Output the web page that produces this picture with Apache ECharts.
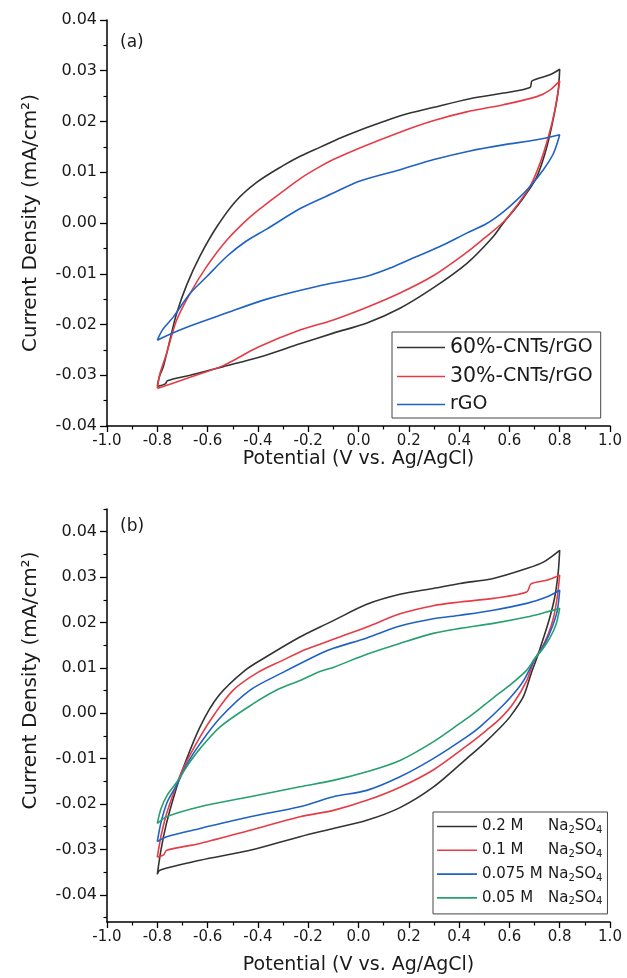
<!DOCTYPE html>
<html><head><meta charset="utf-8">
<script src="https://cdn.jsdelivr.net/npm/echarts@6/dist/echarts.min.js"></script>
<style>html,body{margin:0;padding:0;background:#fff}#c{width:627px;height:978px}</style>
</head><body><div id="c"></div>
<script>
// ---------- data (Potential V, Current density mA/cm2) ----------
const namesA = ['60%-CNTs/rGO', '30%-CNTs/rGO', 'rGO'];
const namesB = ['0.2 M Na2SO4', '0.1 M Na2SO4', '0.075 M Na2SO4', '0.05 M Na2SO4'];
const xTicks = [-1.0, -0.8, -0.6, -0.4, -0.2, 0.0, 0.2, 0.4, 0.6, 0.8, 1.0];
const yTicksB = [-0.04, -0.03, -0.02, -0.01, 0.00, 0.01, 0.02, 0.03, 0.04];
const yMinorB = [-0.045, -0.035, -0.025, -0.015, -0.005, 0.005, 0.015, 0.025, 0.035, 0.045];

// panel (a): anodic (forward) and cathodic (reverse) branches
const a60Fwd = [[-0.80,-0.0321],[-0.79,-0.0300],[-0.776,-0.0283],[-0.75,-0.0231],[-0.723,-0.0178],[-0.683,-0.0122],[-0.63,-0.0065],[-0.564,-0.0008],[-0.49,0.0042],[-0.405,0.0080],[-0.30,0.0113],[-0.23,0.0132],[-0.15,0.0150],[-0.07,0.0168],[0.00,0.0182],[0.10,0.0200],[0.17,0.0212],[0.30,0.0228],[0.443,0.0245],[0.576,0.0256],[0.682,0.0267],[0.69,0.0280],[0.761,0.0292],[0.80,0.0303]];
const a60Rev = [[0.80,0.0303],[0.793,0.0256],[0.768,0.0190],[0.742,0.0138],[0.709,0.0091],[0.669,0.0059],[0.629,0.0032],[0.576,0.0000],[0.53,-0.0030],[0.43,-0.0080],[0.297,-0.0128],[0.165,-0.0168],[0.034,-0.0197],[-0.10,-0.0217],[-0.233,-0.0238],[-0.392,-0.0264],[-0.538,-0.0283],[-0.67,-0.0300],[-0.76,-0.0311],[-0.768,-0.0317],[-0.80,-0.0322]];
const a30Fwd = [[-0.80,-0.0326],[-0.79,-0.0298],[-0.763,-0.0257],[-0.723,-0.0191],[-0.67,-0.0139],[-0.604,-0.0086],[-0.524,-0.0034],[-0.431,0.0012],[-0.36,0.0040],[-0.23,0.0088],[-0.15,0.0112],[-0.10,0.0125],[0.00,0.0147],[0.17,0.0180],[0.30,0.0202],[0.43,0.0219],[0.576,0.0233],[0.709,0.0249],[0.761,0.0262],[0.80,0.0280]];
const a30Rev = [[0.80,0.0280],[0.781,0.0223],[0.755,0.0170],[0.722,0.0118],[0.682,0.0072],[0.629,0.0034],[0.576,0.0002],[0.50,-0.0030],[0.43,-0.0058],[0.297,-0.0104],[0.165,-0.0138],[0.034,-0.0166],[-0.10,-0.0191],[-0.233,-0.0211],[-0.40,-0.0245],[-0.538,-0.0281],[-0.67,-0.0304],[-0.80,-0.0326]];
const aRgoFwd = [[-0.80,-0.0231],[-0.78,-0.0211],[-0.736,-0.0185],[-0.67,-0.0139],[-0.604,-0.0106],[-0.524,-0.0066],[-0.45,-0.0037],[-0.365,-0.0012],[-0.23,0.0029],[-0.10,0.0059],[0.00,0.0082],[0.165,0.0105],[0.30,0.0125],[0.443,0.0142],[0.576,0.0154],[0.709,0.0164],[0.80,0.0174]];
const aRgoRev = [[0.80,0.0174],[0.775,0.0137],[0.735,0.0105],[0.682,0.0072],[0.629,0.0045],[0.576,0.0022],[0.51,-0.0001],[0.43,-0.0020],[0.33,-0.0045],[0.231,-0.0066],[0.13,-0.0088],[0.033,-0.0105],[-0.166,-0.0125],[-0.365,-0.0150],[-0.54,-0.0180],[-0.67,-0.0203],[-0.763,-0.0222],[-0.80,-0.0231]];

// panel (b)
const b02Fwd = [[-0.80,-0.0355],[-0.785,-0.0300],[-0.765,-0.0246],[-0.735,-0.0185],[-0.70,-0.0125],[-0.63,-0.0030],[-0.557,0.0038],[-0.45,0.0095],[-0.365,0.0125],[-0.233,0.0168],[-0.153,0.0190],[-0.10,0.0204],[0.033,0.0240],[0.165,0.0262],[0.297,0.0275],[0.404,0.0286],[0.536,0.0297],[0.669,0.0319],[0.735,0.0333],[0.80,0.0359]];
const b02Rev = [[0.80,0.0359],[0.794,0.0310],[0.78,0.0255],[0.76,0.0210],[0.735,0.0165],[0.713,0.0128],[0.685,0.0085],[0.655,0.0036],[0.602,-0.0008],[0.563,-0.0032],[0.496,-0.0068],[0.43,-0.0100],[0.297,-0.0163],[0.165,-0.0208],[0.033,-0.0236],[-0.10,-0.0254],[-0.233,-0.0272],[-0.431,-0.0302],[-0.63,-0.0324],[-0.79,-0.0346],[-0.80,-0.0355]];
const b01Fwd = [[-0.80,-0.0317],[-0.785,-0.0270],[-0.765,-0.0225],[-0.735,-0.0175],[-0.70,-0.0125],[-0.63,-0.0052],[-0.57,0.0000],[-0.498,0.0051],[-0.40,0.0090],[-0.30,0.0117],[-0.233,0.0135],[-0.153,0.0152],[-0.10,0.0163],[0.033,0.0190],[0.165,0.0219],[0.297,0.0237],[0.404,0.0245],[0.536,0.0253],[0.669,0.0267],[0.686,0.0285],[0.748,0.0293],[0.80,0.0304]];
const b01Rev = [[0.80,0.0304],[0.79,0.0255],[0.775,0.0210],[0.755,0.0175],[0.73,0.0145],[0.70,0.0118],[0.669,0.0072],[0.616,0.0022],[0.563,-0.0012],[0.51,-0.0037],[0.43,-0.0072],[0.297,-0.0125],[0.165,-0.0163],[0.033,-0.0192],[-0.10,-0.0214],[-0.233,-0.0228],[-0.431,-0.0258],[-0.63,-0.0287],[-0.763,-0.0302],[-0.775,-0.0312],[-0.80,-0.0317]];
const b0075Fwd = [[-0.80,-0.0283],[-0.785,-0.0240],[-0.76,-0.0195],[-0.72,-0.0155],[-0.68,-0.0110],[-0.63,-0.0067],[-0.55,-0.0010],[-0.431,0.0051],[-0.30,0.0090],[-0.153,0.0131],[-0.10,0.0143],[0.033,0.0166],[0.165,0.0192],[0.297,0.0208],[0.404,0.0216],[0.536,0.0227],[0.669,0.0242],[0.748,0.0256],[0.80,0.0271]];
const b0075Rev = [[0.80,0.0271],[0.79,0.0225],[0.77,0.0190],[0.745,0.0158],[0.72,0.0135],[0.70,0.0118],[0.66,0.0075],[0.635,0.0055],[0.576,0.0018],[0.483,-0.0030],[0.43,-0.0052],[0.297,-0.0100],[0.165,-0.0140],[0.033,-0.0170],[-0.10,-0.0184],[-0.233,-0.0206],[-0.431,-0.0228],[-0.63,-0.0254],[-0.763,-0.0272],[-0.80,-0.0283]];
const b005Fwd = [[-0.80,-0.0243],[-0.785,-0.0210],[-0.76,-0.0180],[-0.72,-0.0150],[-0.68,-0.0115],[-0.63,-0.0078],[-0.55,-0.0030],[-0.418,0.0021],[-0.325,0.0051],[-0.233,0.0072],[-0.153,0.0092],[-0.10,0.0101],[0.033,0.0130],[0.165,0.0154],[0.297,0.0176],[0.404,0.0187],[0.536,0.0198],[0.669,0.0212],[0.748,0.0223],[0.80,0.0231]];
const b005Rev = [[0.80,0.0231],[0.785,0.0195],[0.76,0.0165],[0.73,0.0140],[0.70,0.0120],[0.669,0.0095],[0.602,0.0062],[0.536,0.0034],[0.457,-0.0001],[0.404,-0.0022],[0.297,-0.0063],[0.165,-0.0104],[0.033,-0.0129],[-0.10,-0.0148],[-0.233,-0.0162],[-0.431,-0.0184],[-0.63,-0.0206],[-0.763,-0.0228],[-0.80,-0.0243]];

const colors = ['#333333', '#e63c46', '#1f62c4', '#27a06f'];
const FONT = 'DejaVu Sans';
const TXT = '#1a1a1a';

function loop(fwd, rev) { return fwd.concat(rev.slice(1)); }
const dataA = [loop(a60Fwd, a60Rev), loop(a30Fwd, a30Rev), loop(aRgoFwd, aRgoRev)];
const dataB = [loop(b02Fwd, b02Rev), loop(b01Fwd, b01Rev), loop(b0075Fwd, b0075Rev), loop(b005Fwd, b005Rev)];

const axisLine = { show: true, onZero: false, lineStyle: { color: '#000', width: 1.5 } };
const fmtY = v => (Math.abs(v) < 1e-9 ? '0.00' : v.toFixed(2));

function xAxis(gi, gap) {
  return {
    type: 'value', gridIndex: gi, min: xTicks[0], max: xTicks[xTicks.length - 1], interval: 0.2,
    axisLine, splitLine: { show: false },
    axisTick: { show: true, length: 6, lineStyle: { color: '#000', width: 1.3 } },
    minorTick: { show: true, splitNumber: 2, length: 3.5, lineStyle: { color: '#000', width: 1.2 } },
    minorSplitLine: { show: false },
    axisLabel: { formatter: v => (Math.abs(v) < 1e-9 ? '0.0' : v.toFixed(1)), fontFamily: FONT, fontSize: 15, color: TXT, margin: 8 },
    name: 'Potential (V vs. Ag/AgCl)', nameLocation: 'middle', nameGap: gap,
    nameTextStyle: { fontFamily: FONT, fontSize: 19, color: TXT }
  };
}
const yName = 'Current Density (mA/cm\u00B2)';

const series = [];
namesA.forEach((n, i) => series.push({
  name: n, type: 'line', xAxisIndex: 0, yAxisIndex: 0, data: dataA[i], symbol: 'none', smooth: 0.3,
  lineStyle: { width: 1.6, color: colors[i] }, itemStyle: { color: colors[i] }, animation: false
}));
namesB.forEach((n, i) => series.push({
  name: n, type: 'line', xAxisIndex: 1, yAxisIndex: 1, data: dataB[i], symbol: 'none', smooth: 0.3,
  lineStyle: { width: 1.6, color: colors[i] }, itemStyle: { color: colors[i] }, animation: false
}));

const option = {
  backgroundColor: '#fff',
  animation: false,
  textStyle: { fontFamily: FONT },
  grid: [
    { left: 107, top: 20, width: 503, height: 406, outerBoundsMode: 'none' },
    { left: 107, top: 509, width: 503, height: 413, outerBoundsMode: 'none' }
  ],
  xAxis: [xAxis(0, 19), xAxis(1, 34)],
  yAxis: [
    {
      type: 'value', gridIndex: 0, min: -0.04, max: 0.04, interval: 0.01,
      axisLine, splitLine: { show: false },
      axisTick: { show: true, length: 7, lineStyle: { color: '#000', width: 1.3 } },
      minorTick: { show: true, splitNumber: 2, length: 3.5, lineStyle: { color: '#000', width: 1.2 } },
      minorSplitLine: { show: false },
      axisLabel: { formatter: fmtY, fontFamily: FONT, fontSize: 16, color: TXT, margin: 10 },
      name: yName, nameLocation: 'middle', nameGap: 66,
      nameTextStyle: { fontFamily: FONT, fontSize: 20, color: TXT }
    },
    {
      type: 'value', gridIndex: 1, min: -0.046, max: 0.045,
      axisLine, splitLine: { show: false },
      axisTick: { show: true, length: 7, customValues: yTicksB, lineStyle: { color: '#000', width: 1.3 } },
      axisLabel: { formatter: fmtY, customValues: yTicksB, fontFamily: FONT, fontSize: 16, color: TXT, margin: 10 },
      name: yName, nameLocation: 'middle', nameGap: 66,
      nameTextStyle: { fontFamily: FONT, fontSize: 20, color: TXT, padding: [0, 0, 0, 70] }
    },
    {
      type: 'value', gridIndex: 1, min: -0.046, max: 0.045, position: 'left',
      axisLine: { show: false, onZero: false }, splitLine: { show: false },
      axisTick: { show: true, length: 3.5, customValues: yMinorB, lineStyle: { color: '#000', width: 1.2 } },
      axisLabel: { show: false }
    }
  ],
  legend: [
    {
      data: namesA, left: 392, top: 332, orient: 'vertical', selectedMode: false,
      icon: 'rect', itemWidth: 48, itemHeight: 1.6, itemGap: 8, padding: [5, 8, 4, 5],
      borderColor: '#444', borderWidth: 1,
      formatter: n => {
        const k = n.indexOf('-');
        return k > 0 ? '{big|' + n.slice(0, k + 1) + '}{sm|' + n.slice(k + 1) + '}' : '{sm|' + n + '}';
      },
      textStyle: {
        fontFamily: FONT, color: TXT, fontSize: 19,
        rich: { big: { fontFamily: FONT, fontSize: 20.5, color: TXT, lineHeight: 22 }, sm: { fontFamily: FONT, fontSize: 19, color: TXT, lineHeight: 22 } }
      }
    },
    {
      data: namesB, left: 433, top: 812, orient: 'vertical', selectedMode: false,
      icon: 'rect', itemWidth: 40, itemHeight: 1.6, itemGap: 7.3, padding: [7, 5, 7, 4],
      borderColor: '#444', borderWidth: 1,
      formatter: n => '{a|' + n.replace(' Na2SO4', '') + '}{n|Na}{s|2}{n|SO}{s|4}',
      textStyle: {
        fontFamily: FONT, color: TXT, fontSize: 15,
        rich: {
          a: { fontFamily: FONT, fontSize: 15, color: TXT, width: 66, lineHeight: 18 },
          n: { fontFamily: FONT, fontSize: 15, color: TXT, lineHeight: 18 },
          s: { fontFamily: FONT, fontSize: 10, color: TXT, lineHeight: 10, verticalAlign: 'bottom' }
        }
      }
    }
  ],
  graphic: [
    { type: 'text', left: 120, top: 34, style: { text: '(a)', fontFamily: FONT, fontSize: 17, fill: TXT } },
    { type: 'text', left: 120, top: 518, style: { text: '(b)', fontFamily: FONT, fontSize: 17, fill: TXT } }
  ],
  series
};

const chart = echarts.init(document.getElementById('c'), null, { renderer: 'canvas' });
chart.setOption(option);
</script></body></html>
